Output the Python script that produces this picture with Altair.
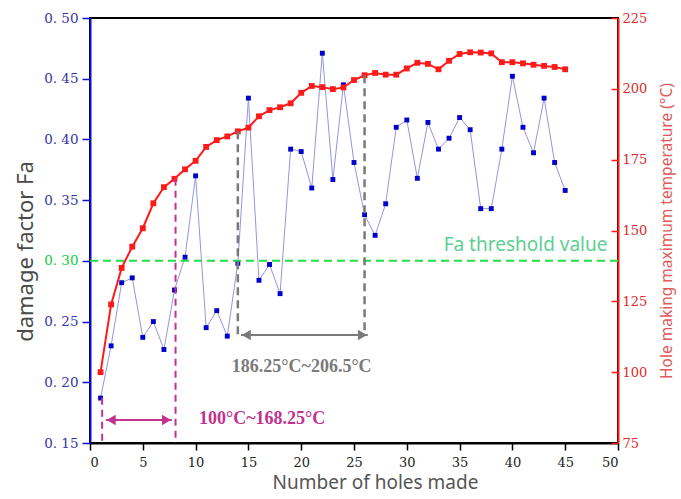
import altair as alt
import pandas as pd

# ---------------- data ----------------
holes = list(range(1, 46))
fa = [0.187, 0.230, 0.282, 0.286, 0.237, 0.250, 0.227, 0.276, 0.303, 0.370,
      0.245, 0.259, 0.238, 0.298, 0.434, 0.284, 0.297, 0.273, 0.392, 0.390,
      0.360, 0.471, 0.367, 0.445, 0.381, 0.338, 0.321, 0.347, 0.410, 0.416,
      0.368, 0.414, 0.392, 0.401, 0.418, 0.408, 0.343, 0.343, 0.392, 0.452,
      0.410, 0.389, 0.434, 0.381, 0.358]
temp = [100.0, 123.9, 136.8, 144.3, 150.8, 159.6, 165.3, 168.25, 171.6, 174.6,
        179.5, 181.9, 183.2, 185.0, 186.3, 190.3, 192.5, 193.5, 194.9, 198.6,
        201.0, 200.6, 199.9, 200.5, 203.1, 204.8, 205.6, 205.0, 205.0, 207.2,
        209.2, 208.8, 206.9, 209.9, 212.3, 212.9, 212.8, 212.5, 209.4, 209.4,
        209.0, 208.5, 208.1, 207.7, 206.9]

threshold = [0.30]
threshold_label = ["Fa threshold value"]
threshold_label_x = [49.0]
threshold_label_y = [0.308]

# vertical dashed markers (temperature units)
mag_x = [1.15, 8.1]
mag_top = [91.0, 168.25]
mag_bottom = [75.0, 75.0]
grey_x = [14.0, 26.0]
grey_top = [185.0, 204.8]
grey_bottom = [113.1, 113.1]

# double arrows (temperature units)
arrow_x1 = [1.5, 14.3]
arrow_x2 = [7.75, 26.3]
arrow_y = [83.1, 113.1]
arrow_color = ["magenta", "grey"]
head_x = [2.0, 7.25, 14.8, 25.8]
head_y = [83.1, 83.1, 113.1, 113.1]
head_shape = ["triangle-left", "triangle-right", "triangle-left", "triangle-right"]
head_color = ["magenta", "magenta", "grey", "grey"]

range_labels = ["100°C~168.25°C", "186.25°C~206.5°C"]
range_x = [16.3, 20.05]
range_y = [83.5, 101.9]
range_color = ["magenta", "grey"]

x_ticks = [0, 2.5, 5, 7.5, 10, 12.5, 15, 17.5, 20, 22.5, 25, 27.5, 30,
           32.5, 35, 37.5, 40, 42.5, 45, 47.5, 50]
fa_ticks = [0.15, 0.175, 0.2, 0.225, 0.25, 0.275, 0.3, 0.325, 0.35, 0.375,
            0.4, 0.425, 0.45, 0.475, 0.5]
t_ticks = [75, 87.5, 100, 112.5, 125, 137.5, 150, 162.5, 175, 187.5, 200,
           212.5, 225]

# ---------------- styles ----------------
MAG = "#c2338f"
GREY = "#7a7a7a"
BLUE = "#1010c8"
RED = "#ff1a1a"
SERIF = "DejaVu Serif"
SANS = "Noto Sans"

cmap = alt.Scale(domain=["magenta", "grey"], range=[MAG, GREY])

df = pd.DataFrame({"hole": holes, "fa": fa, "temp": temp})
df_thr = pd.DataFrame({"v": threshold})
df_thr_lab = pd.DataFrame({"x": threshold_label_x, "y": threshold_label_y, "t": threshold_label})
df_mag = pd.DataFrame({"x": mag_x, "y": mag_top, "y2": mag_bottom})
df_grey = pd.DataFrame({"x": grey_x, "y": grey_top, "y2": grey_bottom})
df_arrow = pd.DataFrame({"x": arrow_x1, "x2": arrow_x2, "y": arrow_y, "c": arrow_color})
df_head = pd.DataFrame({"x": head_x, "y": head_y, "s": head_shape, "c": head_color})
df_rlab = pd.DataFrame({"x": range_x, "y": range_y, "t": range_labels, "c": range_color})

xscale = alt.Scale(domain=[0, 50], nice=False, zero=False)
fascale = alt.Scale(domain=[0.15, 0.50], nice=False, zero=False)
tscale = alt.Scale(domain=[75, 225], nice=False, zero=False)

x_axis = alt.Axis(
    values=x_ticks,
    labelExpr="datum.value % 5 == 0 ? format(datum.value, 'd') : ''",
    tickSize={"condition": {"test": "datum.value % 5 == 0", "value": 7}, "value": 4},
    tickColor="black", tickWidth=1.5, domainColor="black", domainWidth=2,
    labelFont=SERIF, labelFontSize=13, labelColor="#222222", labelPadding=6,
    title="Number of holes made", titleFont=SANS, titleFontSize=19,
    titleFontWeight="normal", titleColor="#555555", titlePadding=4, titleX=285,
    grid=False,
)

fa_axis = alt.Axis(
    values=fa_ticks,
    labelExpr="abs(datum.value*20 - round(datum.value*20)) < 0.001 ? replace(format(datum.value, '.2f'), '.', '. ') : ''",
    tickSize={"condition": {"test": "abs(datum.value*20 - round(datum.value*20)) < 0.001", "value": 8}, "value": 4},
    tickColor=BLUE, tickWidth=1.5, domainColor=BLUE, domainWidth=2,
    labelFont=SERIF, labelFontSize=13.5,
    labelColor={"condition": {"test": "abs(datum.value - 0.3) < 0.001", "value": "#10cc40"}, "value": "#3535a5"},
    labelPadding=4,
    title="damage factor Fa", titleFont=SANS, titleFontSize=22,
    titleFontWeight="normal", titleColor="#4a4a4a", titlePadding=6, titleY=233,
    grid=False,
)

t_axis = alt.Axis(
    orient="right", values=t_ticks,
    labelExpr="datum.value % 25 == 0 ? format(datum.value, 'd') : ''",
    tickSize={"condition": {"test": "datum.value % 25 == 0", "value": -7}, "value": -4},
    tickColor=RED, tickWidth=1.5, domainColor=RED, domainWidth=2,
    labelFont=SERIF, labelFontSize=13, labelColor="#e02a2a", labelPadding=11,
    title="Hole making maximum temperature (°C)", titleFont=SANS, titleFontSize=15.5,
    titleFontWeight="normal", titleColor="#e05a5a", titlePadding=13,
    titleAngle=270, titleBaseline="top",
    grid=False,
)

base = alt.Chart(df)

# ---------------- Fa layers ----------------
blue_line = base.mark_line(color="#9494e0", strokeWidth=1).encode(
    x=alt.X("hole:Q", scale=xscale, axis=x_axis),
    y=alt.Y("fa:Q", scale=fascale, axis=fa_axis),
)
blue_pts = base.mark_point(shape="square", filled=True, color="#0000cc", size=24, opacity=1).encode(
    x=alt.X("hole:Q", scale=xscale),
    y=alt.Y("fa:Q", scale=fascale),
)
thr_rule = alt.Chart(df_thr).mark_rule(color="#22dd44", strokeWidth=2, strokeDash=[8, 5]).encode(
    y=alt.Y("v:Q", scale=fascale),
)
thr_text = alt.Chart(df_thr_lab).mark_text(
    align="right", baseline="alphabetic", font=SANS, fontSize=19, color="#5ccf92"
).encode(
    x=alt.X("x:Q", scale=xscale),
    y=alt.Y("y:Q", scale=fascale),
    text="t:N",
)
fa_group = alt.layer(blue_line, blue_pts, thr_rule, thr_text)

# ---------------- temperature layers ----------------
red_line = base.mark_line(color=RED, strokeWidth=2).encode(
    x=alt.X("hole:Q", scale=xscale),
    y=alt.Y("temp:Q", scale=tscale, axis=t_axis),
)
red_pts = base.mark_point(shape="square", filled=True, color=RED, size=34, opacity=1).encode(
    x=alt.X("hole:Q", scale=xscale),
    y=alt.Y("temp:Q", scale=tscale),
)
mag_rules = alt.Chart(df_mag).mark_rule(color=MAG, strokeWidth=2, strokeDash=[7, 5]).encode(
    x=alt.X("x:Q", scale=xscale),
    y=alt.Y("y:Q", scale=tscale),
    y2="y2:Q",
)
grey_rules = alt.Chart(df_grey).mark_rule(color=GREY, strokeWidth=2.5, strokeDash=[8, 5]).encode(
    x=alt.X("x:Q", scale=xscale),
    y=alt.Y("y:Q", scale=tscale),
    y2="y2:Q",
)
arrows = alt.Chart(df_arrow).mark_rule(strokeWidth=2).encode(
    x=alt.X("x:Q", scale=xscale),
    x2="x2:Q",
    y=alt.Y("y:Q", scale=tscale),
    color=alt.Color("c:N", scale=cmap, legend=None),
)
heads = alt.Chart(df_head).mark_point(filled=True, size=110, opacity=1).encode(
    x=alt.X("x:Q", scale=xscale),
    y=alt.Y("y:Q", scale=tscale),
    shape=alt.Shape("s:N", scale=alt.Scale(domain=["triangle-left", "triangle-right"],
                                           range=["triangle-left", "triangle-right"]), legend=None),
    color=alt.Color("c:N", scale=cmap, legend=None),
)
range_text = alt.Chart(df_rlab).mark_text(
    align="center", baseline="middle", font="Liberation Serif", fontSize=18, fontWeight="bold"
).encode(
    x=alt.X("x:Q", scale=xscale),
    y=alt.Y("y:Q", scale=tscale),
    text="t:N",
    color=alt.Color("c:N", scale=cmap, legend=None),
)
t_group = alt.layer(red_line, red_pts, mag_rules, grey_rules, arrows, heads, range_text)

chart = alt.layer(fa_group, t_group).resolve_scale(y="independent").properties(
    width=528, height=425,
    autosize=alt.AutoSizeParams(type="none"),
    padding={"left": 90, "top": 18, "right": 63, "bottom": 56},
    background="white",
).configure_view(stroke="black", strokeWidth=2)

chart.save("out.html", embed_options={"renderer": "svg", "actions": False})
